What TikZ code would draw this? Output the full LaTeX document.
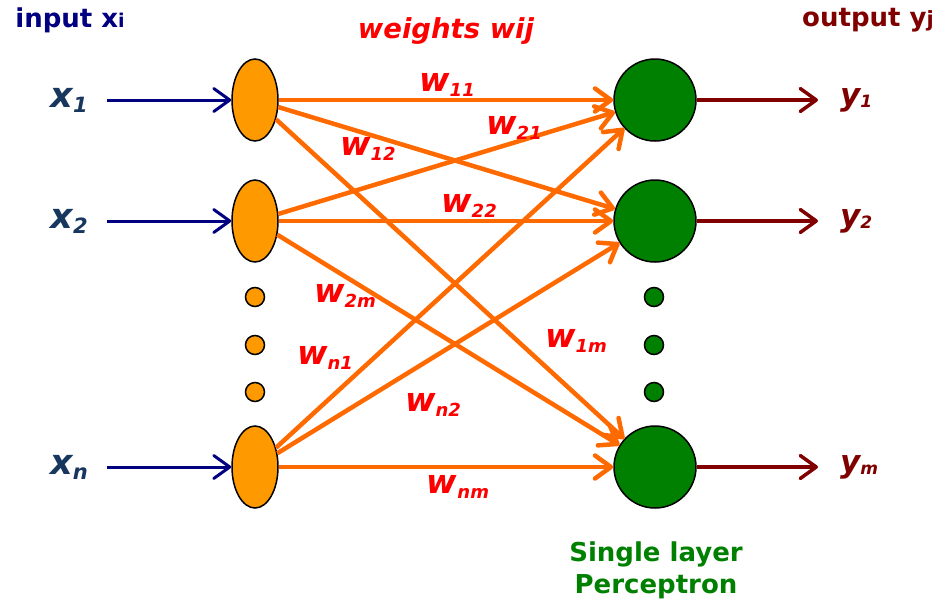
\documentclass[tikz,border=0pt]{standalone}
\usepackage{fontspec}
\setmainfont{DejaVu Sans}
\usepackage{xcolor}
\usepackage{tikz}
\usetikzlibrary{calc}
\usetikzlibrary{positioning}
\usetikzlibrary{arrows.meta}
\usetikzlibrary{shapes.geometric}

\definecolor{inblue}{HTML}{000080}
\definecolor{xblue}{HTML}{17375E}
\definecolor{outred}{HTML}{800000}
\definecolor{wred}{HTML}{FF0000}
\definecolor{linkorange}{HTML}{FF6A00}
\definecolor{unitorange}{HTML}{FF9900}
\definecolor{unitgreen}{HTML}{008000}

\newcommand{\wlab}[1]{{\fontsize{33}{33}\selectfont w}\raisebox{-5pt}{\fontsize{18}{18}\selectfont #1}}
\newcommand{\xlab}[1]{{\fontsize{35}{35}\selectfont x}\raisebox{-5pt}{\fontsize{21}{21}\selectfont #1}}
\newcommand{\ylab}[1]{{\fontsize{31}{31}\selectfont y}\raisebox{-2pt}{\fontsize{17}{17}\selectfont #1}}

\begin{document}
\begin{tikzpicture}[x=1pt,y=-1pt,
	tip/.style={-{Straight Barb[length=16pt,width=23pt,round]}},
	inunit/.style={ellipse,draw,line width=1.5pt,fill=unitorange,minimum width=46pt,minimum height=82pt,inner sep=0pt},
	outunit/.style={circle,draw,line width=1.5pt,fill=unitgreen,minimum size=82pt,inner sep=0pt},
	indot/.style={circle,draw,line width=1.5pt,fill=unitorange,minimum size=19pt,inner sep=0pt},
	outdot/.style={circle,draw,line width=1.5pt,fill=unitgreen,minimum size=19pt,inner sep=0pt},
	inarrow/.style={tip,draw=inblue,line width=3pt},
	outarrow/.style={tip,draw=outred,line width=3.5pt},
	link/.style={tip,draw=linkorange,line width=4.5pt},
	wlabel/.style={text=wred,font=\bfseries\itshape,inner sep=0pt},
	headlabel/.style={font=\bfseries\fontsize{26}{32}\selectfont,inner sep=0pt}]
	\useasboundingbox (0,0) rectangle (943,606);
	
	% units
	\node[inunit] (in1) at (255,100) {};
	\node[inunit] (in2) at (255,221) {};
	\node[inunit] (inn) at (255,467) {};
	\node[outunit] (out1) at (655,100) {};
	\node[outunit] (out2) at (655,221) {};
	\node[outunit] (outm) at (655,467) {};
	\foreach \y in {297,345,392} {
		\node[indot] (ldot\y) at (255,\y) {};
		\node[outdot] (rdot\y) at (654,\y) {};
	}
	
	% weights
	\foreach \i in {in1,in2,inn}
		\foreach \j in {out1,out2,outm}
			\draw[link] (\i) -- (\j);
	
	% inputs
	\foreach \n/\y/\s in {1/100/1,2/221/2,n/467/n} {
		\coordinate (s\n) at (107,\y);
		\draw[inarrow] (s\n) -- (in\n);
		\node[left=19pt of s\n,text=xblue,font=\bfseries\itshape,inner sep=0pt] (x\n) {\xlab{\s}};
	}
	
	% outputs
	\foreach \n/\y/\s in {1/100/1,2/221/2,m/467/m} {
		\coordinate (e\n) at (818,\y);
		\draw[outarrow] (out\n) -- (e\n);
		\node[right=22pt of e\n,text=outred,font=\bfseries\itshape,inner sep=0pt] (y\n) {\ylab{\s}};
	}
	
	\node[wlabel] (w11) at (447,85) {\wlab{11}};
	\node[wlabel] (w21) at (514,128) {\wlab{21}};
	\node[wlabel] (w12) at (368,149) {\wlab{12}};
	\node[wlabel] (w22) at (469,206) {\wlab{22}};
	\node[wlabel] (w2m) at (345,296) {\wlab{2m}};
	\node[wlabel] (w1m) at (576,341) {\wlab{1m}};
	\node[wlabel] (wn1) at (325,358) {\wlab{n1}};
	\node[wlabel] (wn2) at (433,405) {\wlab{n2}};
	\node[wlabel] (wnm) at (458,487) {\wlab{nm}};
	
	% headings
	\node[headlabel,text=inblue] (inhead) at (70,20) {input x{\fontsize{19}{19}\selectfont i}};
	\node[headlabel,text=wred,font=\bfseries\itshape\fontsize{27.5}{32}\selectfont] (whead) at (446,31) {weights wij};
	\node[headlabel,text=outred] (outhead) at (868,20) {output y{\fontsize{21}{21}\selectfont j}};
	\node[headlabel,text=unitgreen,align=center] (perc) at (656,570) {Single layer\\Perceptron};
	
\end{tikzpicture}
\end{document}
